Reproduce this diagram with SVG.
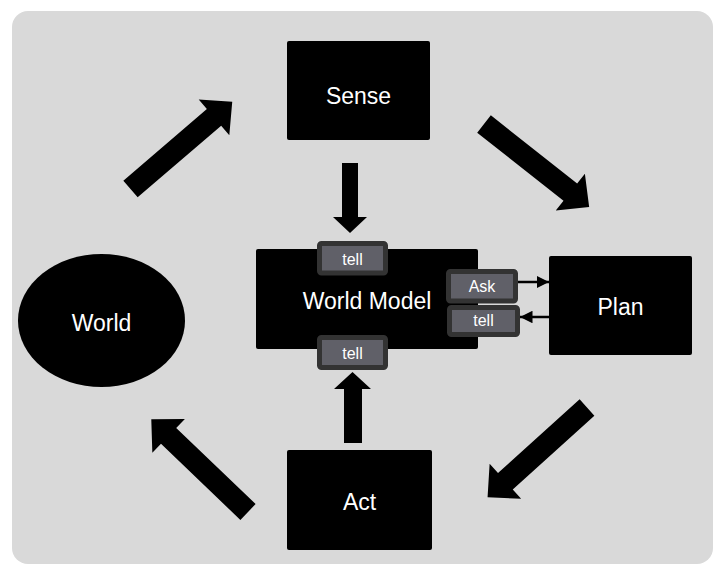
<svg xmlns="http://www.w3.org/2000/svg" width="716" height="565" viewBox="0 0 716 565">
  <style>
    .box { fill: #000000; }
    .label { fill: #ffffff; font-family: "Liberation Sans", Arial, sans-serif; font-size: 23px; text-anchor: middle; }
    .tab { fill: #606068; stroke: #333333; stroke-width: 5; }
    .tabtext { fill: #ffffff; font-family: "Liberation Sans", Arial, sans-serif; font-size: 16px; text-anchor: middle; }
    .block { fill: #000000; }
    .thin { stroke: #000000; stroke-width: 2.5; fill: none; }
  </style>
  <defs>
    <!-- block arrow pointing along +x, tail at origin -->
    <path id="bigArrow" d="M0,-11 L110,-11 L110,-23.5 L134,0 L110,23.5 L110,11 L0,11 Z"/>
    <marker id="tip" viewBox="0 0 10 10" refX="10" refY="5" markerWidth="5" markerHeight="5" orient="auto" markerUnits="strokeWidth">
      <path d="M0,0 L10,5 L0,10 Z" fill="#000000"/>
    </marker>
  </defs>

  <!-- backdrop -->
  <rect x="12" y="11" width="701" height="553" rx="16" fill="#d9d9d9"/>

  <g id="connectors">
    <!-- cycle arrows -->
    <use href="#bigArrow" class="block" transform="translate(130.5,189) rotate(-40.6)"/>
    <use href="#bigArrow" class="block" transform="translate(484,124) rotate(38.3)"/>
    <use href="#bigArrow" class="block" transform="translate(587,407.5) rotate(137.9)"/>
    <use href="#bigArrow" class="block" transform="translate(248,512) rotate(223.8)"/>
    <!-- Sense down into the model -->
    <path class="block" d="M342,163 L358,163 L358,217 L367,217 L350,233 L333,217 L342,217 Z"/>
    <!-- Act up into the model -->
    <path class="block" d="M344,443 L362,443 L362,389 L371,389 L352.5,372 L334,389 L344,389 Z"/>
    <!-- ask / tell exchange with Plan -->
    <line class="thin" x1="518" y1="282" x2="549" y2="282" marker-end="url(#tip)"/>
    <line class="thin" x1="549" y1="317" x2="520" y2="317" marker-end="url(#tip)"/>
  </g>

  <g id="world">
    <ellipse cx="101.5" cy="320.5" rx="83.5" ry="66.5" class="box"/>
    <text x="101.5" y="331" class="label">World</text>
  </g>

  <g id="sense">
    <rect x="287" y="41" width="143" height="99" rx="2" class="box"/>
    <text x="358.5" y="104" class="label">Sense</text>
  </g>

  <g id="plan">
    <rect x="549" y="256" width="143" height="99" rx="2" class="box"/>
    <text x="620.5" y="315" class="label">Plan</text>
  </g>

  <g id="act">
    <rect x="287" y="450" width="145" height="100" rx="2" class="box"/>
    <text x="359.5" y="510" class="label">Act</text>
  </g>

  <g id="world-model">
    <rect x="256" y="249" width="222" height="100" rx="2" class="box"/>
    <text x="367" y="309" class="label">World Model</text>
  </g>

  <g id="tell-top">
    <rect x="319.5" y="243.5" width="66" height="29.5" rx="2" class="tab"/>
    <text x="352.5" y="264.5" class="tabtext">tell</text>
  </g>

  <g id="tell-bottom">
    <rect x="319.5" y="337.5" width="66" height="30" rx="2" class="tab"/>
    <text x="352.5" y="358.5" class="tabtext">tell</text>
  </g>

  <g id="ask">
    <rect x="448.5" y="271.5" width="67" height="29.5" rx="2" class="tab"/>
    <text x="482" y="292" class="tabtext">Ask</text>
  </g>

  <g id="tell-right">
    <rect x="449.5" y="307.5" width="68" height="27" rx="2" class="tab"/>
    <text x="483.5" y="326" class="tabtext">tell</text>
  </g>
</svg>
